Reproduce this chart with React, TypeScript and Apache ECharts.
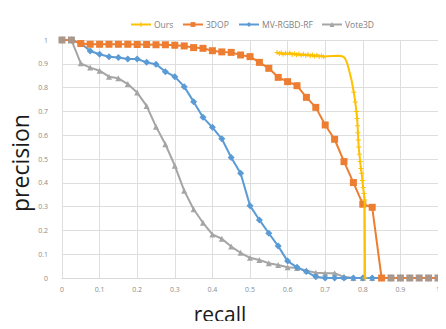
import React, { useEffect, useRef } from "react";
import * as echarts from "echarts";

const seriesNames = ["Ours", "3DOP", "MV-RGBD-RF", "Vote3D"];

const oursData: number[][] = [
  [0.572, 0.947], [0.578, 0.943], [0.583, 0.946], [0.588, 0.940], [0.594, 0.944],
  [0.600, 0.941], [0.606, 0.945], [0.612, 0.939], [0.618, 0.942], [0.624, 0.938],
  [0.630, 0.941], [0.636, 0.936], [0.642, 0.940], [0.648, 0.935], [0.654, 0.939],
  [0.660, 0.934], [0.666, 0.937], [0.672, 0.932], [0.678, 0.936], [0.684, 0.931],
  [0.690, 0.934], [0.696, 0.930], [0.705, 0.932], [0.720, 0.933], [0.735, 0.934],
  [0.745, 0.932], [0.752, 0.925], [0.758, 0.905], [0.764, 0.870], [0.770, 0.832],
  [0.776, 0.780], [0.780, 0.740], [0.783, 0.700], [0.785, 0.670], [0.786, 0.640],
  [0.787, 0.610], [0.788, 0.580], [0.789, 0.550], [0.791, 0.520], [0.793, 0.490],
  [0.795, 0.460], [0.797, 0.440], [0.799, 0.410], [0.801, 0.380], [0.803, 0.355],
  [0.805, 0.328], [0.806, 0.0],
];
const oursNoMarker = [22, 23, 24, 25, 26, 27, 28, 29];

const recallSteps: number[] = [
  0, 0.025, 0.05, 0.075, 0.1, 0.125, 0.15, 0.175, 0.2, 0.225, 0.25, 0.275, 0.3, 0.325,
  0.35, 0.375, 0.4, 0.425, 0.45, 0.475, 0.5, 0.525, 0.55, 0.575, 0.6, 0.625, 0.65,
  0.675, 0.7, 0.725, 0.75, 0.775, 0.8, 0.825, 0.85, 0.875, 0.9, 0.925, 0.95, 0.975, 1,
];

const dop3Precision: number[] = [
  1, 1, 0.985, 0.982, 0.982, 0.982, 0.982, 0.982, 0.981, 0.981, 0.98, 0.98, 0.978, 0.975,
  0.968, 0.965, 0.955, 0.95, 0.948, 0.937, 0.93, 0.906, 0.881, 0.843, 0.825, 0.808, 0.759,
  0.717, 0.643, 0.583, 0.489, 0.401, 0.31, 0.297, 0, 0, 0, 0, 0, 0, 0,
];
// squares drawn in a muted grey-brown where they overlap the grey curve
const dop3Muted = [0, 1, 35, 36, 37, 38, 39, 40];

const mvPrecision: number[] = [
  1, 1, 0.986, 0.954, 0.94, 0.93, 0.926, 0.92, 0.92, 0.906, 0.898, 0.867, 0.846, 0.804,
  0.741, 0.675, 0.633, 0.585, 0.506, 0.44, 0.304, 0.244, 0.188, 0.134, 0.071, 0.045, 0.027,
  0.005, 0, 0, 0, 0, 0, 0, 0, 0, 0, 0, 0, 0, 0,
];

const votePrecision: number[] = [
  1, 1, 0.902, 0.884, 0.871, 0.846, 0.839, 0.815, 0.779, 0.723, 0.636, 0.562, 0.472, 0.367,
  0.289, 0.232, 0.183, 0.165, 0.132, 0.106, 0.085, 0.076, 0.062, 0.055, 0.045, 0.042, 0.031,
  0.022, 0.02, 0.02, 0.005, 0, 0, 0, 0, 0, 0, 0, 0, 0, 0,
];

const xTicks = [0, 0.1, 0.2, 0.3, 0.4, 0.5, 0.6, 0.7, 0.8, 0.9, 1];

const colors = ["#FFC000", "#ED7D31", "#5B9BD5", "#A5A5A5"];
const mutedSquare = "#a8978a";
const legendLeft = [125, 177, 233, 316];
const starSymbol = "path://M4,0h2v4h4v2h-4v4h-2v-4h-4v-2h4z";

export default function App() {
  const ref = useRef<HTMLDivElement>(null);
  useEffect(() => {
    if (!ref.current) return;
    const chart = echarts.init(ref.current, undefined, { renderer: "svg" });
    const pair = (ys: number[]) => recallSteps.map((x, i) => [x, ys[i]]);
    const font = "'Open Sans', 'Noto Sans', sans-serif";
    chart.setOption({
      animation: false,
      backgroundColor: "#ffffff",
      color: colors,
      textStyle: { fontFamily: font },
      grid: { left: 62, right: 8, top: 40, bottom: 51 },
      legend: seriesNames.map((n, i) => ({
        top: 15,
        left: legendLeft[i],
        itemWidth: 20,
        itemHeight: 6,
        textStyle: { fontSize: 8.5, color: "#7f7f7f", fontFamily: font, padding: [0, 0, 0, -2] },
        data: [n],
      })),
      xAxis: {
        type: "value",
        min: 0,
        max: 1,
        interval: 0.1,
        axisLine: { show: true, lineStyle: { color: "#d9d9d9" } },
        axisTick: { show: false },
        splitLine: { show: true, lineStyle: { color: "#dedede" } },
        axisLabel: {
          fontSize: 7,
          color: "#8c8c8c",
          margin: 8,
          formatter: (v: number) => {
            const t = xTicks.find((k) => Math.abs(k - v) < 1e-6);
            return t === undefined ? "" : String(t);
          },
        },
      },
      yAxis: {
        type: "value",
        min: 0,
        max: 1,
        interval: 0.1,
        axisLine: { show: false },
        axisTick: { show: false },
        splitLine: { show: true, lineStyle: { color: "#dedede" } },
        axisLabel: {
          fontSize: 7,
          color: "#8c8c8c",
          margin: 14,
          formatter: (v: number) => String(Math.round(v * 10) / 10),
        },
      },
      graphic: [
        {
          type: "text",
          rotation: Math.PI / 2,
          x: 20,
          y: 163,
          style: {
            text: "precision",
            fontSize: 23,
            fill: "#1a1a1a",
            fontFamily: font,
            align: "center",
            verticalAlign: "middle",
          },
        },
        {
          type: "text",
          x: 220,
          y: 314,
          style: {
            text: "recall",
            fontSize: 21,
            fill: "#1a1a1a",
            fontFamily: font,
            align: "center",
            verticalAlign: "middle",
          },
        },
      ],
      series: [
        {
          name: "Vote3D",
          type: "line",
          data: pair(votePrecision),
          symbol: "triangle",
          symbolSize: 6,
          lineStyle: { width: 2, color: colors[3] },
          itemStyle: { color: colors[3] },
          z: 2,
        },
        {
          name: "MV-RGBD-RF",
          type: "line",
          data: pair(mvPrecision),
          symbol: "diamond",
          symbolSize: 7,
          lineStyle: { width: 2, color: colors[2] },
          itemStyle: { color: colors[2] },
          z: 3,
        },
        {
          name: "3DOP",
          type: "line",
          data: pair(dop3Precision).map((p, i) =>
            dop3Muted.includes(i) ? { value: p, itemStyle: { color: mutedSquare } } : { value: p }
          ),
          symbol: "rect",
          symbolSize: 7,
          lineStyle: { width: 2, color: colors[1] },
          itemStyle: { color: colors[1] },
          z: 4,
        },
        {
          name: "Ours",
          type: "line",
          data: oursData.map((p, i) =>
            oursNoMarker.includes(i) ? { value: p, symbol: "none" } : { value: p }
          ),
          symbol: starSymbol,
          symbolSize: 5,
          lineStyle: { width: 2, color: colors[0] },
          itemStyle: { color: colors[0] },
          z: 5,
        },
      ],
    });
    return () => chart.dispose();
  }, []);
  return <div ref={ref} style={{ width: 446, height: 329, margin: -8 }} />;
}
